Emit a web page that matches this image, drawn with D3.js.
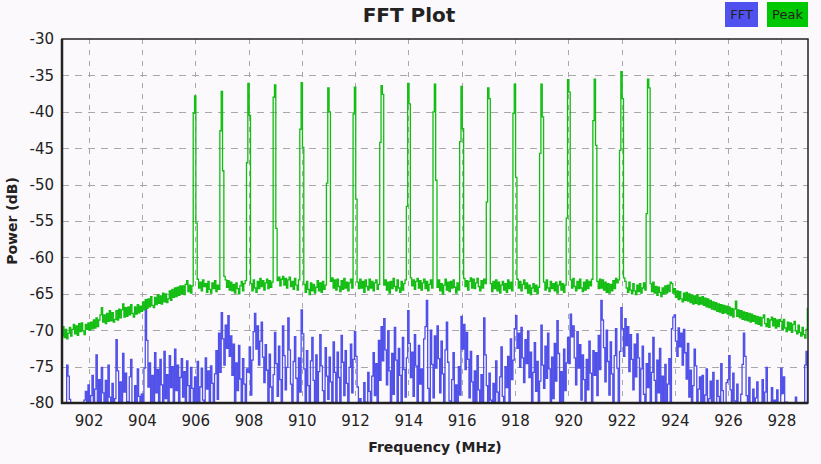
<!DOCTYPE html>
<html>
<head>
<meta charset="utf-8">
<script src="https://cdnjs.cloudflare.com/ajax/libs/d3/7.8.5/d3.min.js"></script>
<style>
  body { margin: 0; background: #fcf9fc; }
  svg text { font-family: "DejaVu Sans", sans-serif; fill: #222; }
</style>
</head>
<body>
<div id="chart"></div>
<script>
// sample grid of the spectrum (MHz)
var freqStart = 901;
var freqStep = 0.05;

var xTicks = [902, 904, 906, 908, 910, 912, 914, 916, 918, 920, 922, 924, 926, 928];
var yTicks = [-30, -35, -40, -45, -50, -55, -60, -65, -70, -75, -80];
var seriesNames = ["FFT", "Peak"];

// FFT power (dB), one row per MHz
var fftValues = [
  -82,-82,-82,-82,-74.8,-76.3,-79.5,-82,-80.2,-82,-82,-82,-82,-82,-82,-82,-82,-79.6,-78.4,-82,                  // 901
  -77.5,-82,-79.0,-76.2,-82,-78.1,-73.4,-80.5,-76.8,-82,-75.1,-78.6,-82,-76.9,-82,-74.8,-79.2,-82,-77.3,-80.1,  // 902
  -79.4,-71.3,-75.6,-80.2,-77.1,-82,-73.2,-78.5,-75.9,-82,-79.8,-76.4,-74.0,-80.5,-82,-77.6,-82,-75.3,-79.1,-82, // 903
  -78.8,-82,-75.2,-66.6,-71.4,-77.8,-74.5,-80.3,-76.2,-82,-73.1,-78.6,-75.4,-80.8,-74.0,-77.5,-82,-72.9,-79.4,-76.1, // 904
  -80.2,-73.5,-77.9,-75.0,-82,-72.6,-78.3,-74.8,-81.0,-76.5,-73.9,-79.2,-75.7,-82,-74.2,-77.6,-80.4,-75.1,-78.0,-82, // 905
  -76.4,-80.1,-74.3,-82,-77.8,-75.2,-79.6,-82,-73.8,-78.1,-75.6,-80.7,-74.9,-77.3,-82,-76.0,-72.8,-79.5,-70.4,-75.8, // 906
  -67.6,-71.2,-74.8,-69.3,-72.5,-68.0,-73.6,-70.8,-76.2,-71.9,-82,-74.5,-78.3,-72.1,-76.7,-80.2,-73.9,-77.4,-82,-75.3, // 907
  -75.8,-72.3,-78.9,-74.1,-70.2,-67.7,-72.6,-69.4,-74.8,-71.5,-68.9,-73.7,-77.2,-72.0,-75.5,-80.3,-73.3,-77.8,-82,-76.1, // 908
  -70.3,-74.6,-79.1,-72.2,-76.8,-82,-69.4,-73.5,-78.2,-75.1,-68.3,-72.7,-77.4,-82,-74.3,-70.9,-76.6,-80.8,-73.8,-78.5, // 909
  -67.2,-70.5,-75.3,-80.1,-72.8,-77.6,-82,-74.2,-71.0,-76.9,-79.8,-73.4,-82,-75.7,-70.6,-74.9,-78.3,-82,-72.4,-76.3, // 910
  -79.5,-73.7,-77.1,-82,-71.6,-75.8,-80.4,-73.0,-76.5,-82,-70.7,-74.4,-79.0,-72.8,-77.3,-82,-75.1,-71.9,-78.6,-74.0, // 911
  -70.2,-73.6,-77.8,-82,-79.4,-80.6,-82,-77.2,-79.9,-82,-75.8,-78.4,-80.7,-76.3,-73.1,-79.0,-74.6,-82,-71.4,-76.9, // 912
  -69.5,-74.2,-68.4,-72.7,-77.5,-70.1,-75.6,-82,-73.2,-78.8,-69.6,-74.1,-80.3,-72.5,-76.2,-82,-71.0,-75.4,-79.2,-73.8, // 913
  -67.3,-71.8,-76.5,-73.0,-79.1,-70.6,-74.9,-82,-72.1,-77.4,-75.3,-80.5,-71.2,-69.5,-65.9,-78.0,-82,-70.0,-74.7,-79.3, // 914
  -70.8,-75.2,-69.4,-73.9,-78.6,-71.5,-76.0,-82,-72.7,-68.9,-74.4,-79.7,-82,-76.8,-73.1,-80.2,-77.5,-82,-75.0,-78.9, // 915
  -68.1,-72.6,-69.2,-75.4,-70.3,-74.0,-79.3,-72.9,-77.1,-82,-75.6,-80.4,-73.5,-78.2,-82,-76.1,-80.0,-68.3,-73.4,-77.6, // 916
  -82,-75.9,-79.6,-82,-77.3,-80.8,-74.2,-78.5,-82,-76.4,-72.3,-79.1,-82,-75.0,-77.9,-73.6,-80.6,-71.2,-76.8,-74.1, // 917
  -69.8,-68.0,-72.5,-70.4,-75.1,-69.6,-73.8,-77.2,-71.3,-74.6,-70.1,-76.5,-73.0,-80.2,-75.8,-71.7,-78.4,-74.3,-82,-77.0, // 918
  -69.3,-74.8,-78.0,-72.2,-76.6,-70.4,-75.3,-82,-73.7,-79.4,-71.8,-77.0,-68.7,-73.2,-80.1,-75.7,-82,-72.6,-78.3,-74.5, // 919
  -71.0,-74.6,-67.8,-70.9,-69.4,-73.8,-77.5,-70.2,-75.2,-72.0,-79.6,-73.4,-76.8,-82,-74.0,-78.2,-71.5,-75.9,-80.3,-72.8, // 920
  -76.2,-73.1,-79.0,-70.7,-75.4,-65.9,-68.6,-72.4,-77.1,-70.0,-74.3,-78.9,-71.6,-76.0,-82,-73.5,-69.8,-75.2,-80.1,-72.9, // 921
  -66.9,-69.8,-73.6,-68.4,-72.1,-69.5,-75.7,-70.6,-74.0,-78.2,-71.9,-76.4,-70.5,-73.8,-80.0,-75.3,-72.2,-78.8,-82,-74.6, // 922
  -77.9,-73.2,-80.5,-75.8,-71.0,-76.9,-82,-74.1,-78.6,-72.5,-82,-76.3,-79.8,-74.7,-82,-77.4,-73.9,-80.9,-69.8,-68.2, // 923
  -67.9,-71.5,-73.6,-69.7,-72.3,-70.4,-74.8,-69.9,-73.1,-76.7,-71.8,-79.2,-75.5,-82,-77.6,-72.6,-74.9,-82,-78.1,-76.4, // 924
  -80.7,-76.2,-82,-78.9,-75.3,-82,-79.4,-77.0,-82,-75.8,-80.2,-82,-76.9,-79.1,-82,-74.6,-78.3,-82,-80.5,-77.2, // 925
  -76.8,-73.5,-78.2,-82,-75.9,-79.7,-82,-77.4,-80.6,-82,-78.8,-74.7,-70.4,-73.6,-79.0,-82,-76.5,-80.9,-82,-78.1, // 926
  -82,-79.3,-77.1,-82,-80.4,-82,-76.8,-82,-78.5,-75.1,-80.0,-82,-82,-77.9,-82,-79.6,-82,-78.2,-82,-80.8,  // 927
  -75.2,-78.7,-76.4,-82,-79.9,-82,-82,-80.6,-82,-82,-82,-79.2,-82,-82,-82,-82,-82,-80.1,-74.8,-72.9,-80.4 // 928-929
];

// Peak hold (dB), one row per MHz
var peakValues = [
  -70.7,-69.5,-71.0,-69.9,-71.2,-70.4,-69.6,-70.8,-69.9,-69.2,-70.5,-69.4,-70.7,-69.1,-70.2,-69.0,-70.1,-70.6,-69.2,-69.9, // 901
  -69.0,-70.0,-68.9,-69.8,-68.6,-69.7,-68.3,-69.5,-68.6,-67.9,-66.9,-68.9,-67.9,-69.1,-67.7,-68.8,-67.3,-68.7,-67.6,-68.9, // 902
  -68.5,-67.3,-68.6,-67.1,-68.3,-67.2,-66.4,-68.2,-66.9,-68.1,-66.8,-67.9,-66.5,-67.7,-68.2,-66.8,-67.8,-66.5,-67.6,-66.7, // 903
  -67.4,-66.1,-67.2,-65.8,-67.0,-65.7,-66.8,-65.4,-66.6,-66.9,-65.5,-66.5,-65.1,-66.3,-65.3,-66.4,-64.9,-66.1,-65.0,-66.2, // 904
  -65.7,-64.6,-65.9,-64.4,-65.5,-64.2,-65.4,-64.1,-65.2,-63.9,-65.0,-63.9,-65.1,-63.7,-63.2,-64.7,-63.8,-64.9,-63.9,-40.2, // 905
  -37.8,-55.3,-63.0,-64.2,-63.4,-64.6,-63.1,-64.0,-63.6,-64.8,-63.3,-64.4,-64.9,-63.5,-64.3,-63.2,-64.7,-63.8,-64.4,-42.6, // 906
  -37.2,-48.1,-62.6,-63.1,-64.1,-63.2,-64.5,-63.4,-64.6,-63.7,-64.9,-63.5,-64.3,-65.0,-63.9,-63.3,-64.6,-63.6,-63.2,-47.0, // 907
  -36.1,-40.5,-63.6,-64.6,-63.1,-64.2,-64.8,-63.3,-64.3,-62.9,-64.0,-63.2,-64.5,-63.5,-63.0,-64.3,-63.2,-64.1,-63.4,-38.0, // 908
  -36.3,-56.0,-63.2,-62.7,-63.9,-63.0,-62.6,-63.8,-62.9,-64.2,-63.1,-62.7,-64.0,-63.3,-64.4,-62.9,-63.8,-64.5,-63.1,-42.4, // 909
  -36.0,-44.9,-63.7,-64.8,-63.3,-64.4,-65.1,-63.5,-64.6,-63.7,-64.9,-64.1,-63.2,-64.6,-63.5,-64.8,-63.3,-64.4,-63.8,-49.8, // 910
  -36.7,-40.0,-63.3,-62.8,-64.2,-63.1,-64.5,-63.0,-64.0,-64.7,-63.2,-64.4,-62.9,-64.2,-63.4,-64.6,-63.5,-63.0,-64.2,-40.3, // 911
  -36.6,-52.0,-63.4,-64.3,-63.0,-64.2,-63.3,-64.8,-63.1,-64.0,-64.5,-63.0,-64.2,-63.3,-64.6,-63.5,-63.1,-64.4,-63.7,-44.2, // 912
  -36.4,-37.6,-63.8,-63.1,-64.5,-63.4,-64.9,-63.3,-64.3,-62.9,-64.0,-64.6,-63.1,-64.2,-64.8,-63.3,-64.5,-63.6,-63.1,-53.0, // 913
  -36.1,-38.9,-62.8,-63.9,-63.1,-64.4,-63.3,-62.9,-64.2,-63.2,-64.5,-63.5,-63.0,-64.3,-63.3,-64.6,-63.7,-63.1,-64.2,-40.0, // 914
  -36.2,-49.4,-64.1,-63.1,-64.6,-63.6,-65.0,-63.8,-63.0,-64.5,-63.4,-64.7,-63.3,-64.2,-63.1,-64.1,-64.9,-63.5,-64.5,-44.1, // 915
  -36.5,-42.3,-62.9,-64.0,-63.2,-64.5,-63.3,-62.8,-64.2,-63.0,-64.3,-63.5,-62.9,-64.0,-64.6,-63.2,-64.2,-63.0,-63.6,-52.4, // 916
  -36.7,-38.2,-63.6,-64.7,-63.3,-64.3,-63.1,-64.6,-63.4,-64.9,-63.8,-63.3,-64.5,-63.6,-64.8,-63.1,-64.3,-63.4,-64.6,-40.2, // 917
  -36.2,-49.0,-63.0,-64.2,-63.3,-64.6,-63.7,-63.1,-64.3,-63.5,-64.9,-63.8,-65.1,-64.2,-63.6,-64.7,-63.8,-65.0,-64.1,-45.7, // 918
  -36.2,-40.7,-63.4,-64.5,-63.1,-64.2,-64.7,-63.3,-64.3,-63.6,-64.6,-63.4,-64.9,-63.8,-63.3,-64.5,-63.6,-64.8,-63.8,-54.6, // 919
  -35.6,-37.3,-63.1,-64.2,-62.9,-64.0,-64.6,-63.3,-64.3,-63.0,-64.2,-64.7,-63.4,-64.5,-63.1,-64.3,-63.3,-63.9,-63.0,-41.2, // 920
  -35.5,-44.6,-63.3,-64.3,-63.0,-64.2,-63.1,-64.5,-63.4,-64.8,-63.6,-64.9,-63.7,-64.6,-63.2,-64.3,-62.9,-63.5,-63.1,-45.3, // 921
  -34.5,-38.2,-62.8,-63.3,-64.2,-64.8,-63.4,-64.5,-65.0,-63.6,-64.6,-65.1,-63.8,-64.7,-63.6,-64.9,-64.2,-63.5,-64.5,-54.0, // 922
  -35.5,-36.7,-63.6,-64.7,-63.4,-64.9,-64.0,-65.2,-64.1,-64.8,-65.4,-64.2,-65.0,-63.9,-64.9,-63.8,-64.7,-63.4,-63.6,-64.9, // 923
  -64.3,-65.5,-64.6,-65.8,-64.7,-65.7,-66.1,-64.9,-65.9,-64.8,-66.0,-65.0,-66.2,-65.2,-66.4,-65.3,-66.3,-65.1,-66.5,-65.5, // 924
  -66.4,-65.4,-66.6,-65.6,-66.8,-65.7,-66.9,-65.9,-67.1,-66.1,-67.2,-66.2,-67.4,-66.4,-67.5,-66.5,-67.7,-66.6,-67.6,-66.7, // 925
  -67.8,-66.8,-68.0,-67.0,-68.2,-67.1,-66.0,-68.1,-67.2,-68.3,-67.3,-68.5,-67.5,-68.6,-67.6,-68.7,-67.7,-68.9,-67.8,-68.8, // 926
  -68.0,-69.1,-68.1,-69.2,-68.2,-69.4,-68.3,-67.9,-69.1,-69.5,-68.4,-69.6,-68.6,-68.2,-69.4,-68.4,-69.7,-68.6,-69.5,-68.5, // 927
  -68.8,-69.9,-68.5,-69.7,-70.2,-68.9,-70.0,-69.0,-70.3,-69.2,-68.8,-70.1,-70.5,-69.3,-70.3,-70.8,-69.6,-70.6,-71.1,-69.9,-67.0 // 928-929
];

function init(){

  var w = 821;
  var h = 464;
  var left = 62, right = 808, top = 39, bottom = 403;

  var xScale = d3.scaleLinear()
                  .domain([901, 929])
                  .range([left, right]);
  var yScale = d3.scaleLinear()
                  .domain([-80, -30])
                  .range([bottom, top]);

  var svg = d3.select("#chart")
    .append("svg")
    .attr("width", w)
    .attr("height", h);

  svg.append("rect")
    .attr("width", w)
    .attr("height", h)
    .attr("fill", "#fcf9fc");

  svg.append("clipPath")
    .attr("id", "plotClip")
    .append("rect")
    .attr("x", left)
    .attr("y", top)
    .attr("width", right - left)
    .attr("height", bottom - top);

  // grid
  svg.selectAll("line.vgrid")
    .data(xTicks)
    .enter()
    .append("line")
    .attr("class", "vgrid")
    .attr("x1", function(d) { return Math.round(xScale(d)) + 0.5; })
    .attr("x2", function(d) { return Math.round(xScale(d)) + 0.5; })
    .attr("y1", top)
    .attr("y2", bottom)
    .attr("stroke", "#a8a8a8")
    .attr("stroke-width", 1)
    .attr("stroke-dasharray", "5,6");

  svg.selectAll("line.hgrid")
    .data(yTicks.slice(1, -1))
    .enter()
    .append("line")
    .attr("class", "hgrid")
    .attr("x1", left)
    .attr("x2", right)
    .attr("y1", function(d) { return Math.round(yScale(d)) + 0.5; })
    .attr("y2", function(d) { return Math.round(yScale(d)) + 0.5; })
    .attr("stroke", "#a8a8a8")
    .attr("stroke-width", 1)
    .attr("stroke-dasharray", "7,6");

  var line = d3.line()
    .x(function(d, i) { return xScale(freqStart + i * freqStep); })
    .y(function(d) { return yScale(d); })
    .curve(d3.curveStep);

  var plot = svg.append("g").attr("clip-path", "url(#plotClip)");

  plot.append("path")
    .datum(fftValues)
    .attr("fill", "none")
    .attr("stroke", "#4f4fea")
    .attr("stroke-width", 1.3)
    .attr("d", line);

  plot.append("path")
    .datum(peakValues)
    .attr("fill", "none")
    .attr("stroke", "#12bd12")
    .attr("stroke-width", 1.3)
    .attr("d", line);

  // frame
  svg.append("rect")
    .attr("x", left)
    .attr("y", top)
    .attr("width", right - left)
    .attr("height", bottom - top)
    .attr("fill", "none")
    .attr("stroke", "#222")
    .attr("stroke-width", 1.5);
  svg.append("line")
    .attr("x1", left).attr("x2", left)
    .attr("y1", top).attr("y2", bottom + 1)
    .attr("stroke", "#222").attr("stroke-width", 2.5);
  svg.append("line")
    .attr("x1", left - 1).attr("x2", right)
    .attr("y1", bottom).attr("y2", bottom)
    .attr("stroke", "#222").attr("stroke-width", 2.5);

  // axes
  var xAxis = d3.axisBottom(xScale)
                .tickValues(xTicks)
                .tickSize(0)
                .tickPadding(12)
                .tickFormat(d3.format("d"));
  var yAxis = d3.axisLeft(yScale)
                .tickValues(yTicks)
                .tickSize(0)
                .tickPadding(8)
                .tickFormat(function(d) { return String(d); });

  var gx = svg.append("g")
    .attr("transform", "translate(0," + bottom + ")")
    .call(xAxis);
  var gy = svg.append("g")
    .attr("transform", "translate(" + left + ",0)")
    .call(yAxis);
  gx.select(".domain").remove();
  gy.select(".domain").remove();
  svg.selectAll(".tick text")
    .attr("font-family", "DejaVu Sans")
    .attr("font-size", 15)
    .attr("fill", "#222");

  // titles
  svg.append("text")
    .attr("x", 409)
    .attr("y", 22)
    .attr("text-anchor", "middle")
    .attr("font-size", 20)
    .attr("font-weight", "bold")
    .text("FFT Plot");

  svg.append("text")
    .attr("x", (left + right) / 2)
    .attr("y", 452)
    .attr("text-anchor", "middle")
    .attr("font-size", 14)
    .attr("font-weight", "bold")
    .text("Frequency (MHz)");

  svg.append("text")
    .attr("transform", "translate(17," + ((top + bottom) / 2) + ") rotate(-90)")
    .attr("text-anchor", "middle")
    .attr("font-size", 14)
    .attr("font-weight", "bold")
    .text("Power (dB)");

  // legend
  var legend = [
    {name: seriesNames[0], x: 725, w: 33, color: "#5151f0"},
    {name: seriesNames[1], x: 767, w: 41, color: "#00c800"}
  ];
  var lg = svg.selectAll("g.legend")
    .data(legend)
    .enter()
    .append("g")
    .attr("class", "legend");
  lg.append("rect")
    .attr("x", function(d) { return d.x; })
    .attr("y", 2)
    .attr("width", function(d) { return d.w; })
    .attr("height", 25)
    .attr("fill", function(d) { return d.color; });
  lg.append("text")
    .attr("x", function(d) { return d.x + d.w / 2; })
    .attr("y", 19)
    .attr("text-anchor", "middle")
    .attr("font-size", 13)
    .attr("fill", "#1a1a40")
    .text(function(d) { return d.name; });
}

window.onload = init;
</script>
</body>
</html>
